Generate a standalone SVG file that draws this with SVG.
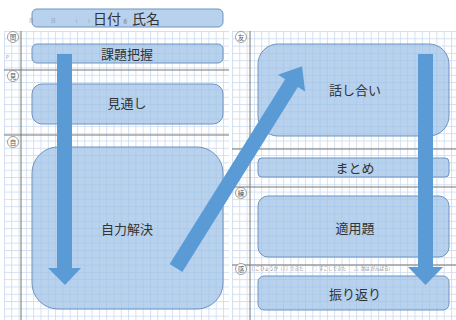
<svg xmlns="http://www.w3.org/2000/svg" width="456" height="320" viewBox="0 0 456 320">
<defs>
<pattern id="grid" width="7.3" height="7.3" patternUnits="userSpaceOnUse" x="4" y="31">
<path d="M0 0.5H7.3M0.5 0V7.3" fill="none" stroke="#c9d9ee" stroke-width="0.8"/>
</pattern>
<pattern id="grid2" width="7.3" height="7.3" patternUnits="userSpaceOnUse" x="232" y="31">
<path d="M0 0.5H7.3M0.5 0V7.3" fill="none" stroke="#c9d9ee" stroke-width="0.8"/>
</pattern>
</defs>
<style>
.box{fill:#9dc0e8;fill-opacity:0.72;stroke:#6e93bf;stroke-width:1}
.lbl{font-family:"Noto Sans CJK JP","Noto Sans",sans-serif;font-size:13px;fill:#333;text-anchor:middle;dominant-baseline:central}
.tiny{font-family:"Noto Sans CJK JP","Noto Sans",sans-serif;font-size:4.5px;fill:#888;dominant-baseline:central}
.circ{fill:#fff;stroke:#777;stroke-width:0.7}
.ct{font-family:"Noto Sans CJK JP","Noto Sans",sans-serif;font-size:6.5px;fill:#555;text-anchor:middle;dominant-baseline:central}
.rule{stroke:#777;stroke-width:1}
.arrow{fill:#5b9bd5}
</style>
<rect width="456" height="320" fill="#fff"/>
<rect x="4" y="31" width="225" height="289" fill="url(#grid)"/>
<rect x="232" y="31" width="224" height="289" fill="url(#grid2)"/>
<g id="rules">
<line class="rule" x1="21" y1="31" x2="21" y2="320"/>
<line class="rule" x1="250" y1="31" x2="250" y2="320"/>
<line class="rule" x1="4" y1="70" x2="229" y2="70"/>
<line class="rule" x1="4" y1="135" x2="229" y2="135"/>
<line class="rule" x1="232" y1="149" x2="456" y2="149"/>
<line class="rule" x1="232" y1="187" x2="456" y2="187"/>
<line class="rule" x1="232" y1="265" x2="456" y2="265"/>
</g>
<g id="marks">
<circle class="circ" cx="13" cy="37" r="5.5"/><text class="ct" x="13" y="37">問</text>
<text class="tiny" x="6" y="57">P</text>
<circle class="circ" cx="13" cy="76" r="5.5"/><text class="ct" x="13" y="76">見</text>
<circle class="circ" cx="13" cy="142" r="5.5"/><text class="ct" x="13" y="142">自</text>
<circle class="circ" cx="241" cy="37" r="5.5"/><text class="ct" x="241" y="37">友</text>
<circle class="circ" cx="241" cy="193" r="5.5"/><text class="ct" x="241" y="193">練</text>
<circle class="circ" cx="241" cy="269" r="5.5"/><text class="ct" x="241" y="269">感</text>
<text class="tiny" x="251" y="268" xml:space="preserve">じこひょうか（ ◎  できた         ○  すこしできた        △  次は がんばる）</text>
</g>
<g id="title">
<rect class="box" x="32" y="9" width="191" height="18" rx="5"/>
<text class="tiny" x="29" y="20">月</text>
<text class="tiny" x="51" y="20">日</text>
<text class="tiny" x="73" y="20">（</text>
<text class="tiny" x="88" y="20">）</text>
<text class="lbl" x="107" y="18" style="font-size:14px">日付</text>
<text class="tiny" x="123" y="21">番</text>
<text class="lbl" x="146" y="18" style="font-size:14px">氏名</text>
</g>
<g id="kadai"><rect class="box" x="32" y="44" width="191" height="19" rx="5"/><text class="lbl" x="127" y="53.5">課題把握</text></g>
<g id="mitoshi"><rect class="box" x="32" y="84" width="191" height="40" rx="10"/><text class="lbl" x="127" y="102">見通し</text></g>
<g id="jiriki"><rect class="box" x="32" y="147" width="191" height="162" rx="26"/><text class="lbl" x="127" y="228">自力解決</text></g>
<g id="hanashi"><rect class="box" x="258" y="44" width="191" height="92" rx="20"/><text class="lbl" x="355" y="89">話し合い</text></g>
<g id="matome"><rect class="box" x="258" y="158" width="191" height="19" rx="4"/><text class="lbl" x="355" y="167.5">まとめ</text></g>
<g id="tekiyou"><rect class="box" x="258" y="196" width="191" height="61" rx="10"/><text class="lbl" x="355" y="227">適用題</text></g>
<g id="furikaeri"><rect class="box" x="258" y="276" width="191" height="34" rx="6"/><text class="lbl" x="355" y="293">振り返り</text></g>
<g id="connectors">
<polygon class="arrow" points="57,54 72,54 72,268 81,268 65,285 48,268 57,268"/>
<polygon class="arrow" points="418,54 433,54 433,267 443,267 425.5,285 408,267 418,267"/>
<polygon class="arrow" transform="translate(176,268) rotate(-58)" points="0,-7.5 218,-7.5 218,-16 238,0 218,16 218,7.5 0,7.5"/>
</g>
</svg>
